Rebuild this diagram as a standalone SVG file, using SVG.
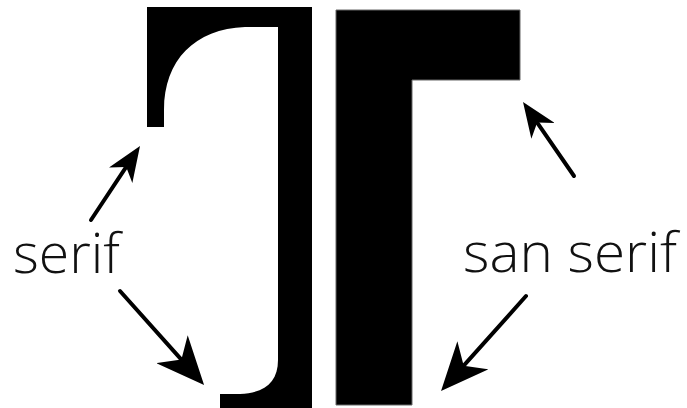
<svg xmlns="http://www.w3.org/2000/svg" width="687" height="408" viewBox="0 0 687 408">
  <style>
    .glyph { fill: #000; }
    .sans { stroke: #666; stroke-width: 1; }
    .label { font-family: "Open Sans", "Liberation Sans", sans-serif; font-weight: 300; font-size: 56px; fill: #111; }
    .arrow { stroke: #000; stroke-width: 4; fill: none; stroke-linecap: round; }
  </style>
  <defs>
    <marker id="head-s" markerUnits="userSpaceOnUse" viewBox="0 -14 35 28" markerWidth="35" markerHeight="28" refX="10" refY="0" orient="auto">
      <path d="M0,-14 L35,0 L0,14 L10,0 Z" fill="#000"/>
    </marker>
    <marker id="head-l" markerUnits="userSpaceOnUse" viewBox="0 -21 48 42" markerWidth="48" markerHeight="42" refX="14" refY="0" orient="auto">
      <path d="M0,-21 L48,0 L0,21 L14,0 Z" fill="#000"/>
    </marker>
  </defs>
  <rect width="687" height="408" fill="#fff"/>

  <g id="serif-T">
    <path class="glyph" d="M147,7 L312,7 L312,408 L220,408 L220,394 L240,394 C265,393 278,382 278,360 L278,27 L245,27 C195,29 164,60 164,110 L164,127 L147,127 Z"/>
  </g>

  <g id="sans-T">
    <path class="glyph sans" d="M336,10 L520,10 L520,80 L412,80 L412,405 L336,405 Z"/>
  </g>

  <g id="label-serif">
    <text class="label" x="13" y="273" textLength="107" lengthAdjust="spacingAndGlyphs">serif</text>
  </g>

  <g id="label-san-serif">
    <text class="label" x="463" y="272" textLength="214" lengthAdjust="spacingAndGlyphs">san serif</text>
  </g>

  <g id="connectors">
    <line class="arrow" x1="91" y1="220" x2="126.2" y2="166.9" marker-end="url(#head-s)"/>
    <line class="arrow" x1="120" y1="291" x2="181.4" y2="359.6" marker-end="url(#head-l)"/>
    <line class="arrow" x1="574" y1="176" x2="537.2" y2="122.6" marker-end="url(#head-s)"/>
    <line class="arrow" x1="526" y1="296" x2="463.7" y2="365.7" marker-end="url(#head-l)"/>
  </g>
</svg>
